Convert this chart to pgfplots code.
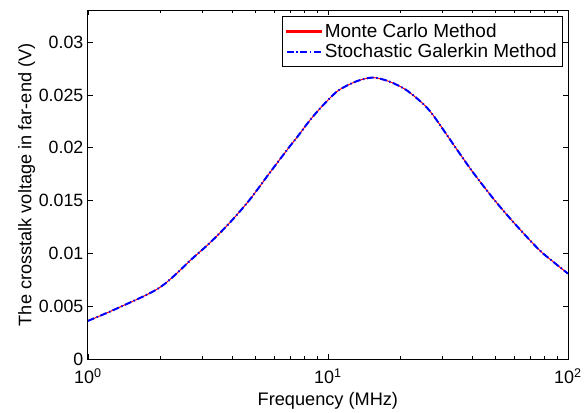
\documentclass[border=0pt]{standalone}
\usepackage{fontspec}
\setmainfont{Liberation Sans}
\usepackage{pgfplots}
\pgfplotsset{compat=1.18}
\pgfplotstableread{
f v
1 0.00363
1.34 0.00487
2 0.00681
2.74 0.00958
3.22 0.0110
3.89 0.01288
4.72 0.01508
5.71 0.0176
6.92 0.0201
7.49 0.02108
8.38 0.02255
9.22 0.02365
10.2 0.0247
11.16 0.02548
13.1 0.02627
15.36 0.02664
18.0 0.02627
21.15 0.02548
24.8 0.0242
27.3 0.02315
32 0.0209
40 0.01775
50 0.01492
60.6 0.01272
75.7 0.01037
86 0.0093
100 0.0081
}\mcdata
\pgfplotstableread{
f v
1 0.00363
1.34 0.00487
2 0.00681
2.74 0.00958
3.22 0.0110
3.89 0.01288
4.72 0.01508
5.71 0.0176
6.92 0.0201
7.49 0.02108
8.38 0.02255
9.22 0.02365
10.2 0.0247
11.16 0.02548
13.1 0.02627
15.36 0.02664
18.0 0.02627
21.15 0.02548
24.8 0.0242
27.3 0.02315
32 0.0209
40 0.01775
50 0.01492
60.6 0.01272
75.7 0.01037
86 0.0093
100 0.0081
}\sgdata
\begin{document}
\begin{tikzpicture}[font=\fontsize{18bp}{21bp}\selectfont]
\begin{axis}[
  scale only axis, width=481bp, height=349.7bp,
  xmode=log, xmin=1, xmax=100, ymin=0, ymax=0.033,
  scaled y ticks=false,
  xtick={1,10,100},
  xticklabels={10\textsuperscript{0},10\textsuperscript{1},10\textsuperscript{2}},
  ytick={0,0.005,0.01,0.015,0.02,0.025,0.03},
  yticklabels={0,0.005,0.01,0.015,0.02,0.025,0.03},
  tick align=inside, major tick length=5bp, minor tick length=3bp,
  every tick/.style={black, line width=0.6bp},
  axis line style={line width=0.8bp},
  xlabel={Frequency (MHz)},
  ylabel={The crosstalk voltage in far-end (V)},
  ylabel shift=-3bp,
  xticklabel style={yshift=-6bp, font=\fontsize{18bp}{21bp}\selectfont},
  yticklabel style={xshift=-1bp, font=\fontsize{17.8bp}{21bp}\selectfont},
  label style={font=\fontsize{18.2bp}{21bp}\selectfont},
  xlabel style={yshift=-1bp},
  legend style={at={(1,1)}, anchor=north east, xshift=-5bp, yshift=-5.8bp,
    draw=black, line width=0.6bp, inner xsep=4bp, inner ysep=5.5bp, row sep=1bp,
    font=\fontsize{19bp}{22bp}\selectfont},
  legend cell align=left,
]
\addplot[color=red, line width=1bp, smooth, tension=0.5,
  legend image code/.code={\fill[red] (0bp,-0.65bp) rectangle (35bp,0.65bp);}]
  table[x=f, y=v] {\mcdata};
\addlegendentry{Monte Carlo Method}
\addplot[color=blue, line width=2bp, smooth, tension=0.5,
  dash pattern=on 7bp off 2.5bp on 1.5bp off 2.5bp,
  legend image code/.code={\draw[blue, line width=2bp, dash pattern=on 7bp off 2.5bp on 1.5bp off 2.5bp] (0bp,0bp) -- (35bp,0bp);}]
  table[x=f, y=v] {\sgdata};
\addlegendentry{Stochastic Galerkin Method}
\end{axis}
\path ([shift={(-88bp,-51bp)}]current axis.south west) rectangle ([shift={(16bp,10.3bp)}]current axis.north east);
\end{tikzpicture}
\end{document}
